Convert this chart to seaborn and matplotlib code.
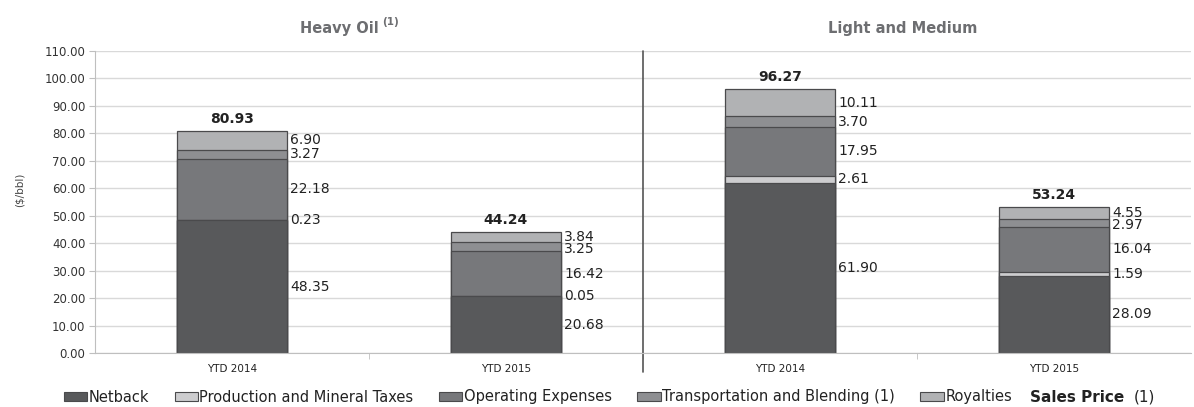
import numpy as np
import pandas as pd
import seaborn as sns
import matplotlib.pyplot as plt
from matplotlib.patches import Patch

# data
bars = ["Heavy 2014", "Heavy 2015", "Light 2014", "Light 2015"]
bar_labels = ["YTD 2014", "YTD 2015", "YTD 2014", "YTD 2015"]
groups = ["Heavy Oil", "Light and Medium"]

netback = [48.35, 20.68, 61.90, 28.09]
prod_taxes = [0.23, 0.05, 2.61, 1.59]
opex = [22.18, 16.42, 17.95, 16.04]
transport = [3.27, 3.25, 3.70, 2.97]
royalties = [6.90, 3.84, 10.11, 4.55]
sales_price = [80.93, 44.24, 96.27, 53.24]

series_names = ["Netback", "Production and Mineral Taxes", "Operating Expenses",
                "Transportation and Blending (1)", "Royalties"]
series_vals = [netback, prod_taxes, opex, transport, royalties]
colors = ["#58595b", "#cdcdcf", "#77787b", "#8e8f92", "#b1b2b4"]

sns.set_style("white")
plt.rcParams['font.family'] = ['DejaVu Sans']

fig = plt.figure(figsize=(11.94, 4.07), dpi=100)
ax = fig.add_axes([95 / 1194, 1 - 353 / 407, 1096 / 1194, 302 / 407])

df = pd.DataFrame({"bar": bars})
cum = np.zeros(len(bars))
cums = []
for vals in series_vals:
    cum = cum + np.array(vals)
    cums.append(cum.copy())

# draw cumulative totals from top down so lower segments overlay upper ones
for i in range(len(series_vals) - 1, -1, -1):
    df["v"] = cums[i]
    sns.barplot(data=df, x="bar", y="v", order=bars, color=colors[i],
                saturation=1, width=0.4, edgecolor="#4a4a4c", linewidth=0.9, ax=ax)

# segment labels to the right of each bar (pushed apart when they would collide)
min_gap = 4.4
for j in range(len(bars)):
    mids = []
    base = 0.0
    for vals in series_vals:
        mids.append(base + vals[j] / 2)
        base += vals[j]
    ys = list(mids)
    for i in range(len(ys) - 2, -1, -1):
        if ys[i + 1] - ys[i] < min_gap:
            ys[i] = ys[i + 1] - min_gap
    for i, vals in enumerate(series_vals):
        ax.text(j + 0.213, ys[i], f"{vals[j]:.2f}", ha="left", va="center",
                fontsize=10, color="#222222")
    ax.text(j, sales_price[j] + 1.8, f"{sales_price[j]:.2f}", ha="center", va="bottom",
            fontsize=10, fontweight="bold", color="#222222")

ax.set_ylim(0, 110)
ax.set_xlim(-0.5, 3.5)
ax.set_yticks(np.arange(0, 111, 10))
ax.set_yticklabels([f"{v:.2f}" for v in np.arange(0, 111, 10)], fontsize=8.5, color="#333333")
ax.set_xticks(range(len(bars)))
ax.set_xticklabels(bar_labels, fontsize=7.5, color="#222222")
ax.tick_params(axis="x", length=0, pad=8)
ax.tick_params(axis="y", length=4, color="#bfbfbf", left=True, pad=3)
ax.set_xticks([0.5, 1.5, 2.5], minor=True)
ax.tick_params(axis="x", which="minor", length=4, color="#bfbfbf", bottom=True)
ax.yaxis.grid(True, color="#d9d9d9", linewidth=1)
ax.set_axisbelow(True)
for s in ["top", "right"]:
    ax.spines[s].set_visible(False)
for s in ["left", "bottom"]:
    ax.spines[s].set_color("#bfbfbf")
ax.set_xlabel("")
ax.set_ylabel("")
fig.text(20 / 1194, 1 - 190 / 407, "($/bbl)", rotation=90, ha="center", va="center",
         fontsize=7.5, color="#444444")

# divider between the two groups
ax.axvline(1.5, ymin=-0.063, ymax=1, clip_on=False, color="#555555", linewidth=1.2)

# group titles
fig.text(379 / 1194, 1 - 28 / 407, groups[0], ha="right", va="center",
         fontsize=10.5, fontweight="bold", color="#6d6e71")
fig.text(382 / 1194, 1 - 22 / 407, "(1)", ha="left", va="center",
         fontsize=7.5, fontweight="bold", color="#6d6e71")
fig.text(903 / 1194, 1 - 28 / 407, groups[1], ha="center", va="center",
         fontsize=10.5, fontweight="bold", color="#6d6e71")

handles = [Patch(facecolor=c, edgecolor="#4a4a4c", linewidth=0.8) for c in colors]
fig.legend(handles, series_names, loc="center left", bbox_to_anchor=(58 / 1194, 1 - 397 / 407),
           ncol=5, frameon=False, fontsize=10.5, handlelength=1.6, handleheight=0.65,
           handletextpad=0.1, columnspacing=1.75, labelcolor="#222222", borderaxespad=0)
fig.text(1030 / 1194, 1 - 397 / 407, "Sales Price", ha="left", va="center",
         fontsize=11, fontweight="bold", color="#222222")
fig.text(1134 / 1194, 1 - 397 / 407, "(1)", ha="left", va="center",
         fontsize=11, color="#222222")

fig.savefig("out.png", dpi=100)
